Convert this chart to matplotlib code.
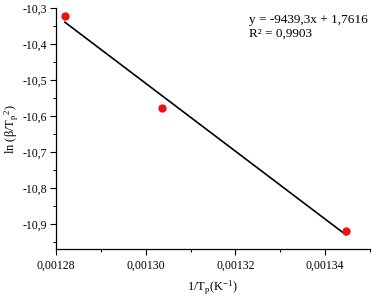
import numpy as np
import matplotlib.pyplot as plt
from matplotlib.ticker import MultipleLocator, FuncFormatter

# data
inv_tp = [0.001282, 0.0013037, 0.0013446]
ln_beta_tp2 = [-10.322, -10.578, -10.919]
slope = -9439.3
intercept = 1.7616
r2 = 0.9903

plt.rcParams['font.family'] = ['Liberation Serif', 'DejaVu Serif']
plt.rcParams['mathtext.fontset'] = 'stix'

fig = plt.figure(figsize=(3.73, 2.96), dpi=100)
ax = fig.add_axes([0.150, 0.159, 0.842, 0.814])

x_fit = np.array([min(inv_tp), max(inv_tp)])
ax.plot(x_fit, slope * x_fit + intercept, color='black', lw=1.2, zorder=2)
ax.plot(inv_tp, ln_beta_tp2, 'o', color='#ee1111', ms=5, zorder=3)

ax.set_xlim(0.00128, 0.00135)
ax.set_ylim(-10.97, -10.3)
ax.xaxis.set_major_locator(MultipleLocator(0.00002))
ax.xaxis.set_minor_locator(MultipleLocator(0.00001))
ax.yaxis.set_major_locator(MultipleLocator(0.1))
ax.yaxis.set_minor_locator(MultipleLocator(0.05))
ax.xaxis.set_major_formatter(FuncFormatter(lambda v, p: f'{v:.5f}'.replace('.', ',')))
ax.yaxis.set_major_formatter(FuncFormatter(lambda v, p: f'{v:.1f}'.replace('.', ',')))

for s in ['top', 'right']:
    ax.spines[s].set_visible(False)
for s in ['left', 'bottom']:
    ax.spines[s].set_linewidth(0.9)
ax.tick_params(which='major', direction='out', length=4, width=0.8, labelsize=8.5)
ax.tick_params(axis='y', which='major', pad=2.5)
ax.tick_params(which='minor', direction='out', length=2.5, width=0.7)

ax.set_xlabel(r'1/T$_\mathregular{p}$(K$^\mathregular{-1}$)', fontsize=9, labelpad=5)
ax.set_ylabel(r'ln (β/T$_\mathregular{p}$$^\mathregular{2}$)', fontsize=9)
ax.yaxis.set_label_coords(-0.112, 0.5)

ax.text(0.615, 0.95, f'y = {slope:.1f}x + {intercept:.4f}'.replace('.', ','),
        transform=ax.transAxes, fontsize=9.5, va='center')
ax.text(0.615, 0.895, f'R² = {r2:.4f}'.replace('.', ','),
        transform=ax.transAxes, fontsize=9.5, va='center')

plt.savefig('out.png', dpi=100)
